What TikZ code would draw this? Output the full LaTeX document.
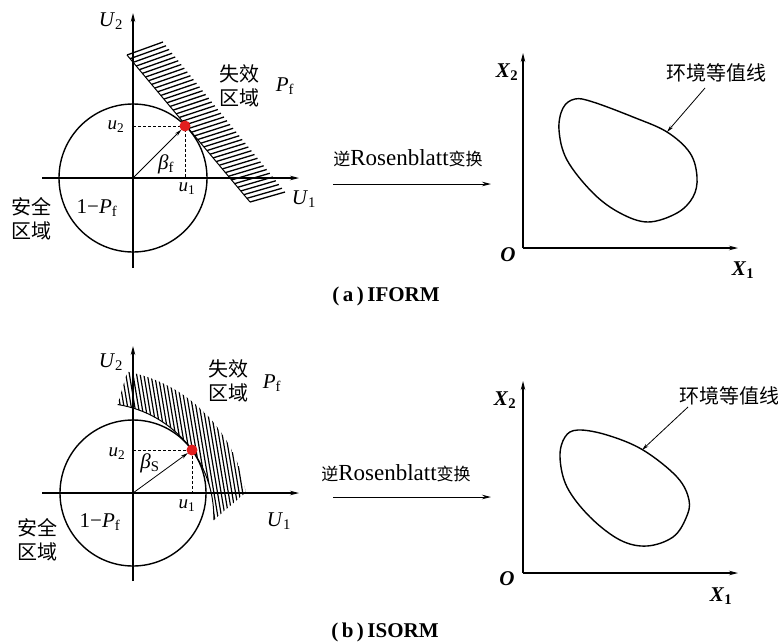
\documentclass[tikz,border=0pt]{standalone}
\usepackage{fontspec}
\setmainfont{Liberation Serif}
\newfontfamily\cjk{Noto Sans CJK SC}
\usetikzlibrary{arrows.meta,calc}
\newcommand{\lbl}[2]{\textit{#1}\textsubscript{#2}}
\newcommand{\zhs}[1]{{\cjk\fontsize{17}{17}\selectfont #1}}
\begin{document}
\begin{tikzpicture}[x=1pt,y=-1pt,
  axis/.style={line width=1.1pt,-{Stealth[length=9pt,width=4.5pt]}},
  curve/.style={line width=1.4pt},
  hatch/.style={line width=1.3pt},
  guide/.style={densely dashed,line width=0.7pt},
  vec/.style={line width=0.8pt,-{Stealth[length=7pt,width=3.5pt]}},
  reddot/.style={fill={rgb,255:red,225;green,30;blue,30}},
  mlab/.style={font=\fontsize{21}{21}\selectfont,inner sep=0pt},
  slab/.style={font=\fontsize{19}{19}\selectfont,inner sep=0pt},
  zh/.style={font=\cjk\fontsize{20}{24}\selectfont,inner sep=0pt,align=center},
  trlab/.style={font=\fontsize{23}{23}\selectfont,inner sep=0pt},
  captext/.style={font=\bfseries\fontsize{21}{21}\selectfont,inner sep=0pt}]
\useasboundingbox (0,0) rectangle (778,643);

% ================= (a) IFORM =================
\coordinate (oa) at (133,178);
\coordinate (pa) at (185,126);
\coordinate (u2a) at (133,126);
\coordinate (u1a) at (185,178);
% hatched band
\foreach \i in {0,...,40}{
  \pgfmathsetmacro\t{\i/40}
  \draw[hatch] ($(127,55)!\t!(250,202)$) -- ($(163,42)!\t!(285,192)$);
}
\draw[line width=1pt] (127,55) -- (250,202);
% axes
\coordinate (ya0) at (133,268); \coordinate (ya1) at (133,13);
\coordinate (xa0) at (42,178);  \coordinate (xa1) at (299,178);
\draw[axis] (ya0) -- (ya1);
\draw[axis] (xa0) -- (xa1);
\draw[curve] (oa) circle[radius=74];
\draw[guide] (u2a) -- (pa) -- (u1a);
\draw[vec] (oa) -- ($(oa)!0.93!(pa)$);
\fill[reddot] (pa) circle[radius=5.5];
\node[mlab] (U2a) at (111,21) {\lbl{U}{2}};
\node[mlab] (U1a) at (304,199) {\lbl{U}{1}};
\node[slab] (u2la) at (116,127) {\lbl{u}{2}};
\node[slab] (u1la) at (187,189) {\lbl{u}{1}};
\node[mlab] (ba) at (166,164) {\lbl{β}{f}};
\node[mlab] (pfa) at (97,208) {1−\lbl{P}{f}};
\node[zh] (faila) at (239,86) {失效\\区域};
\node[mlab] (Pfa) at (285,86) {\lbl{P}{f}};
\node[zh] (safea) at (31,219) {安全\\区域};

% transformation arrow (a)
\coordinate (ta0) at (333,184); \coordinate (ta1) at (491,184);
\draw[axis,line width=1pt] (ta0) -- (ta1);
\node[trlab] (tla) at (408,158) {\zhs{逆}Rosenblatt\zhs{变换}};

% right axes (a)
\coordinate (Oa) at (523,248);
\coordinate (Xa2) at (523,53); \coordinate (Xa1) at (738,248);
\draw[axis] (Oa) -- (Xa2);
\draw[axis] (Oa) -- (Xa1);
\node[mlab] (X2a) at (507,72) {\textbf{\lbl{X}{2}}};
\node[mlab] (Oal) at (508,255) {\textbf{\textit{O}}};
\node[mlab] (X1a) at (743,270) {\textbf{\lbl{X}{1}}};
\draw[curve] plot[smooth cycle,tension=0.6] coordinates {
 (575,99) (563,108) (559,130) (567,160) (593,193) (620,213) (648,222)
 (677,213) (693,197) (697,177) (690,153) (667,132) (633,117) (593,102)};
\node[zh] (enva) at (716,73) {环境等值线};
\coordinate (ea) at (667,132);
\draw[vec] (705,88) -- (ea);
\node[captext] (capa) at (386,296) {(\,a\,)\,IFORM};

% ================= (b) ISORM =================
\coordinate (ob) at (133,493);
\coordinate (pb) at (192,450);
\coordinate (u2b) at (133,450);
\coordinate (u1b) at (192,493);
\coordinate (cb) at (99.8,517.1);
\begin{scope}
\clip ($(cb)+(-81:114)$) arc[start angle=-81,end angle=1.5,radius=114]
   -- ($(cb)+(-9.6:148)$) arc[start angle=-9.6,end angle=-79.3,radius=148] -- cycle;
\foreach \x in {88,91.6,...,280}
  \draw[hatch,line width=1.2pt] (\x-15,360) -- (\x+15,540);
\end{scope}
\draw[line width=1pt] ($(cb)+(-81:114)$) arc[start angle=-81,end angle=1.5,radius=114];
\coordinate (yb0) at (133,581); \coordinate (yb1) at (133,346);
\coordinate (xb0) at (42,493);  \coordinate (xb1) at (299,493);
\draw[axis] (yb0) -- (yb1);
\draw[axis] (xb0) -- (xb1);
\draw[curve] (ob) circle[radius=73];
\draw[guide] (u2b) -- (pb) -- (u1b);
\draw[vec] (ob) -- ($(ob)!0.93!(pb)$);
\fill[reddot] (pb) circle[radius=5.5];
\node[mlab] (U2b) at (111,362) {\lbl{U}{2}};
\node[mlab] (U1b) at (279,521) {\lbl{U}{1}};
\node[slab] (u2lb) at (117,454) {\lbl{u}{2}};
\node[slab] (u1lb) at (187,506) {\lbl{u}{1}};
\node[mlab] (bb) at (150,463) {\lbl{β}{S}};
\node[mlab] (pfb) at (100,522) {1−\lbl{P}{f}};
\node[zh] (failb) at (228,381) {失效\\区域};
\node[mlab] (Pfb) at (272,383) {\lbl{P}{f}};
\node[zh] (safeb) at (37,540) {安全\\区域};

% transformation arrow (b)
\coordinate (tb0) at (333,497); \coordinate (tb1) at (491,497);
\draw[axis,line width=1pt] (tb0) -- (tb1);
\node[trlab] (tlb) at (396,473) {\zhs{逆}Rosenblatt\zhs{变换}};

% right axes (b)
\coordinate (Ob) at (523,573);
\coordinate (Xb2) at (523,381); \coordinate (Xb1) at (738,573);
\draw[axis] (Ob) -- (Xb2);
\draw[axis] (Ob) -- (Xb1);
\node[mlab] (X2b) at (505,400) {\textbf{\lbl{X}{2}}};
\node[mlab] (Obl) at (507,579) {\textbf{\textit{O}}};
\node[mlab] (X1b) at (721,596) {\textbf{\lbl{X}{1}}};
\draw[curve] plot[smooth cycle,tension=0.6] coordinates {
 (578,430) (565,437) (560,457) (567,487) (590,517) (620,540) (647,546)
 (673,537) (686,518) (689,500) (677,477) (643,450) (607,435)};
\node[zh] (envb) at (729,396) {环境等值线};
\coordinate (eb) at (642,450);
\draw[vec] (688,407) -- (eb);
\node[captext] (capb) at (385,632) {(\,b\,)\,ISORM};
\end{tikzpicture}
\end{document}
